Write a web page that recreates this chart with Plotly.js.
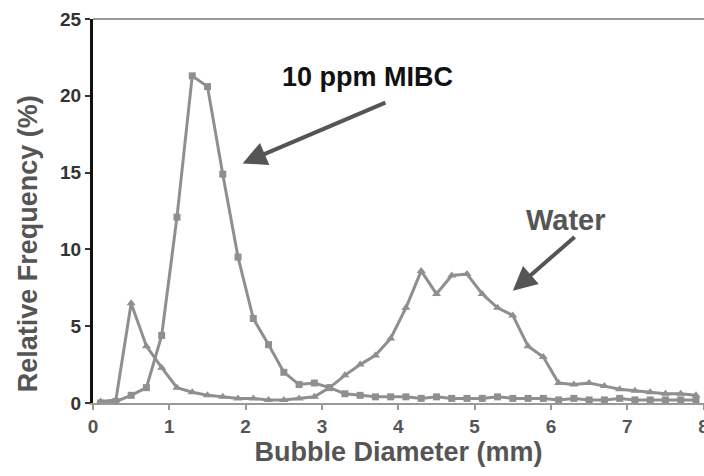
<!DOCTYPE html>
<html>
<head>
<meta charset="utf-8">
<script src="https://cdn.plot.ly/plotly-3.0.1.min.js"></script>
<style>
  html, body { margin: 0; padding: 0; background: #fff; }
  #chart { width: 704px; height: 476px; }
</style>
</head>
<body>
<div id="chart"></div>
<script>
// Bubble size distributions: bin centres (mm) and relative frequency (%)
const diameterMm = [0.1, 0.3, 0.5, 0.7, 0.9, 1.1, 1.3, 1.5, 1.7, 1.9,
                    2.1, 2.3, 2.5, 2.7, 2.9, 3.1, 3.3, 3.5, 3.7, 3.9,
                    4.1, 4.3, 4.5, 4.7, 4.9, 5.1, 5.3, 5.5, 5.7, 5.9,
                    6.1, 6.3, 6.5, 6.7, 6.9, 7.1, 7.3, 7.5, 7.7, 7.9];

const waterFreq = [0.1, 0.2, 6.5, 3.7, 2.3, 1.0, 0.7, 0.5, 0.4, 0.3,
                   0.3, 0.2, 0.2, 0.3, 0.4, 1.0, 1.8, 2.5, 3.1, 4.2,
                   6.2, 8.6, 7.1, 8.3, 8.4, 7.1, 6.2, 5.7, 3.7, 3.0,
                   1.3, 1.2, 1.3, 1.1, 0.9, 0.8, 0.7, 0.6, 0.6, 0.5];

const mibcFreq = [0.0, 0.1, 0.5, 1.0, 4.4, 12.1, 21.3, 20.6, 14.9, 9.5,
                  5.5, 3.8, 2.0, 1.2, 1.3, 1.0, 0.6, 0.5, 0.4, 0.4,
                  0.4, 0.3, 0.4, 0.3, 0.3, 0.3, 0.4, 0.3, 0.3, 0.3,
                  0.2, 0.3, 0.2, 0.2, 0.3, 0.2, 0.2, 0.2, 0.2, 0.2];

const yTicks = [0, 5, 10, 15, 20, 25];
const xTicks = [0, 1, 2, 3, 4, 5, 6, 7, 8];

const lineGray = '#8f8f8f';
const fontFam = 'Liberation Sans, Arial, sans-serif';

const traces = [
  {
    name: 'Water',
    x: diameterMm, y: waterFreq,
    mode: 'lines+markers',
    line: { color: lineGray, width: 3 },
    marker: { symbol: 'triangle-up', size: 8, color: lineGray }
  },
  {
    name: '10 ppm MIBC',
    x: diameterMm, y: mibcFreq,
    mode: 'lines+markers',
    line: { color: lineGray, width: 3 },
    marker: { symbol: 'square', size: 7, color: lineGray }
  }
];

const layout = {
  width: 704, height: 476,
  margin: { l: 93, r: 0, t: 19, b: 73 },
  paper_bgcolor: '#fff', plot_bgcolor: '#fff',
  showlegend: false,
  font: { family: fontFam, color: '#333' },
  xaxis: {
    range: [0, 8.005],
    tickvals: xTicks,
    ticktext: xTicks.map(String),
    ticklabeloverflow: 'allow',
    ticks: 'outside', ticklen: 5, tickwidth: 2, tickcolor: '#999',
    tickfont: { size: 19, family: fontFam, color: '#555', weight: 'bold' },
    showline: true, linecolor: '#999', linewidth: 2,
    showgrid: false, zeroline: false,
    title: { text: '<b>Bubble Diameter (mm)</b>', font: { size: 27, color: '#555' }, standoff: 6 }
  },
  yaxis: {
    range: [0, 25],
    tickvals: yTicks,
    ticktext: yTicks.map(String),
    ticks: 'outside', ticklen: 5, tickwidth: 2, tickcolor: '#333',
    tickfont: { size: 19, family: fontFam, color: '#333', weight: 'bold' },
    showline: true, linecolor: '#111', linewidth: 3,
    showgrid: false, zeroline: false
  },
  shapes: [
    // top border of the plot area
    { type: 'line', xref: 'paper', yref: 'paper', x0: 0, x1: 1, y0: 1, y1: 1,
      line: { color: '#999', width: 2 } }
  ],
  annotations: [
    {
      text: '<b>Relative Frequency (%)</b>',
      xref: 'paper', yref: 'paper', x: -0.106, y: 0.414,
      xanchor: 'center', yanchor: 'middle',
      textangle: -90, showarrow: false,
      font: { size: 27, color: '#555', family: fontFam }
    },
    {
      text: '<b>10 ppm MIBC</b>',
      xref: 'x', yref: 'y', x: 3.6, y: 21.2,
      showarrow: false,
      font: { size: 27, color: '#111', family: fontFam }
    },
    {
      text: '', xref: 'x', yref: 'y', axref: 'x', ayref: 'y',
      x: 1.96, y: 15.6, ax: 3.85, ay: 19.6,
      showarrow: true, arrowhead: 2, arrowsize: 1.2, arrowwidth: 4, arrowcolor: '#555'
    },
    {
      text: '<b>Water</b>',
      xref: 'x', yref: 'y', x: 6.2, y: 11.9,
      showarrow: false,
      font: { size: 29, color: '#555', family: fontFam }
    },
    {
      text: '', xref: 'x', yref: 'y', axref: 'x', ayref: 'y',
      x: 5.5, y: 7.3, ax: 6.33, ay: 10.9,
      showarrow: true, arrowhead: 2, arrowsize: 1.2, arrowwidth: 4, arrowcolor: '#555'
    }
  ]
};

Plotly.newPlot('chart', traces, layout, { displayModeBar: false, staticPlot: true });
</script>
</body>
</html>
